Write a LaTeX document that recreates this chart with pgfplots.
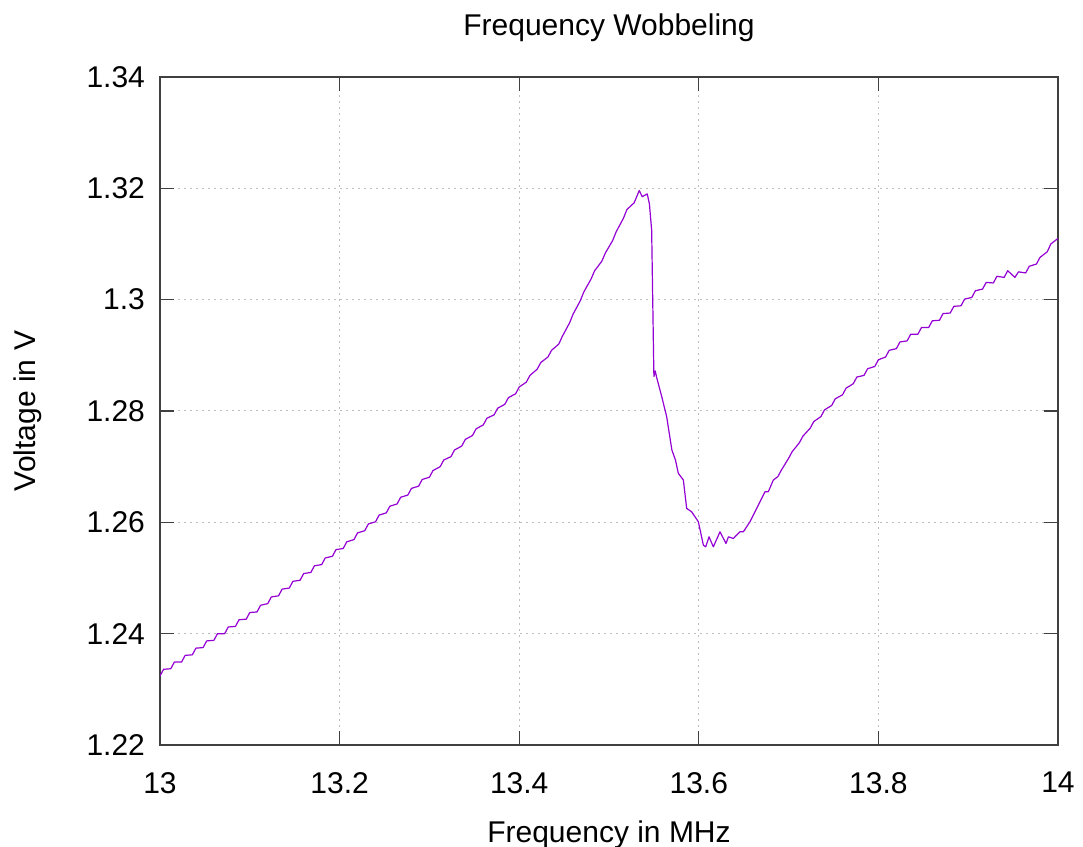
\documentclass[border=0pt]{standalone}
\usepackage{pgfplots}
\pgfplotsset{compat=1.18}
\usepackage{fontspec}
\setmainfont{Liberation Sans}
\definecolor{gpviolet}{RGB}{148,0,211}
\definecolor{gpaxis}{RGB}{64,64,64}
\definecolor{gpgrid}{RGB}{190,190,190}
\begin{document}
\begin{tikzpicture}
\useasboundingbox (0,0) rectangle (541.5pt,423.5pt);
\begin{axis}[
  at={(80pt,51pt)}, anchor=south west,
  width=449pt, height=334pt, scale only axis,
  xmin=13, xmax=14, ymin=1.22, ymax=1.34,
  xtick={13,13.2,13.4,13.6,13.8,14},
  ytick={1.22,1.24,1.26,1.28,1.3,1.32,1.34},
  yticklabels={1.22,1.24,1.26,1.28,1.3,1.32,1.34},
  xticklabels={13,13.2,13.4,13.6,13.8,14},
  tick align=inside, major tick length=7pt,
  axis line style={gpaxis, line width=0.75pt},
  every tick/.style={gpaxis, line width=0.6pt},
  grid=major,
  major grid style={gpgrid, line width=0.5pt, dash pattern=on 1pt off 2pt},
  tick label style={font=\fontsize{15}{18}\selectfont},
  xticklabel style={yshift=-10pt},
  yticklabel style={xshift=-4pt},
  /pgf/number format/assume math mode=true,
  title={Frequency Wobbeling},
  title style={font=\fontsize{15}{18}\selectfont, at={(axis description cs:0.5,1)}, anchor=center, yshift=18.5pt},
  xlabel={Frequency in MHz},
  ylabel={Voltage in V},
  xlabel style={font=\fontsize{15}{18}\selectfont, at={(axis description cs:0.5,0)}, anchor=center, yshift=-45pt},
  ylabel style={font=\fontsize{15}{18}\selectfont, at={(axis description cs:-0.147,0.5)}, anchor=center, rotate=0},
]
\addplot[gpviolet, line width=0.6pt, line join=round] coordinates {
(13.000,1.2324)(13.004,1.2336)
(13.012,1.2337)(13.016,1.2349)
(13.024,1.2349)(13.028,1.2361)
(13.036,1.2362)(13.040,1.2374)
(13.048,1.2375)(13.052,1.2387)
(13.060,1.2388)(13.064,1.2400)
(13.072,1.2400)(13.076,1.2412)
(13.084,1.2413)(13.088,1.2425)
(13.096,1.2426)(13.100,1.2438)
(13.108,1.2439)(13.112,1.2451)
(13.120,1.2454)(13.124,1.2466)
(13.132,1.2468)(13.136,1.2480)
(13.144,1.2482)(13.148,1.2494)
(13.156,1.2496)(13.160,1.2508)
(13.168,1.2510)(13.172,1.2522)
(13.180,1.2524)(13.184,1.2536)
(13.192,1.2539)(13.196,1.2551)
(13.204,1.2553)(13.208,1.2565)
(13.216,1.2569)(13.220,1.2581)
(13.228,1.2585)(13.232,1.2597)
(13.240,1.2601)(13.244,1.2613)
(13.252,1.2617)(13.256,1.2629)
(13.264,1.2633)(13.268,1.2645)
(13.276,1.2649)(13.280,1.2661)
(13.288,1.2665)(13.292,1.2677)
(13.300,1.2681)(13.304,1.2693)
(13.312,1.2700)(13.316,1.2712)
(13.324,1.2718)(13.328,1.2730)
(13.336,1.2737)(13.340,1.2749)
(13.348,1.2756)(13.352,1.2768)
(13.360,1.2775)(13.364,1.2787)
(13.372,1.2793)(13.376,1.2805)
(13.384,1.2812)(13.388,1.2824)
(13.396,1.2831)(13.400,1.2843)
(13.408,1.2852)(13.412,1.2864)
(13.420,1.2875)(13.424,1.2887)
(13.432,1.2897)(13.436,1.2909)
(13.444,1.2920)(13.448,1.2934)
(13.456,1.2958)(13.460,1.2974)
(13.468,1.2998)(13.472,1.3014)
(13.480,1.3037)(13.484,1.3052)
(13.492,1.3069)(13.496,1.3084)
(13.504,1.3106)(13.508,1.3122)
(13.516,1.3146)(13.520,1.3162)
(13.528,1.3174)(13.5337,1.3196)(13.5370,1.3185)(13.5426,1.3190)(13.5450,1.3172)
(13.5475,1.3125)(13.5500,1.2862)(13.5515,1.2872)(13.5528,1.2862)(13.5587,1.2826)
(13.5642,1.2790)(13.5700,1.2730)(13.5740,1.2712)(13.5772,1.2688)(13.5828,1.2676)
(13.5865,1.2625)(13.5920,1.2619)(13.5995,1.2601)(13.6051,1.2559)(13.6077,1.2556)
(13.6114,1.2574)(13.6162,1.2556)(13.6236,1.2583)(13.6303,1.2562)(13.6330,1.2574)
(13.6385,1.2571)(13.6459,1.2583)(13.6496,1.2583)(13.6570,1.2601)(13.6644,1.2625)
(13.6737,1.2655)(13.6774,1.2655)(13.6830,1.2676)
(13.688,1.2682)(13.692,1.2694)
(13.700,1.2715)(13.704,1.2727)
(13.712,1.2743)(13.716,1.2755)
(13.724,1.2769)(13.728,1.2781)
(13.736,1.2790)(13.740,1.2802)
(13.748,1.2810)(13.752,1.2822)
(13.760,1.2829)(13.764,1.2841)
(13.772,1.2849)(13.776,1.2861)
(13.784,1.2864)(13.788,1.2876)
(13.796,1.2880)(13.800,1.2892)
(13.808,1.2897)(13.812,1.2909)
(13.820,1.2912)(13.824,1.2924)
(13.832,1.2926)(13.836,1.2938)
(13.844,1.2938)(13.848,1.2950)
(13.856,1.2950)(13.860,1.2962)
(13.868,1.2963)(13.872,1.2975)
(13.880,1.2976)(13.884,1.2988)
(13.892,1.2989)(13.896,1.3001)
(13.904,1.3004)(13.908,1.3016)
(13.916,1.3019)(13.920,1.3031)
(13.928,1.3030)(13.932,1.3042)
(13.940,1.3040)(13.944,1.3052)
(13.952,1.3040)(13.956,1.3050)
(13.964,1.3048)(13.968,1.3060)
(13.976,1.3064)(13.980,1.3076)
(13.988,1.3086)(13.992,1.3100)
(14.000,1.3110)
};
\end{axis}
\end{tikzpicture}
\end{document}
